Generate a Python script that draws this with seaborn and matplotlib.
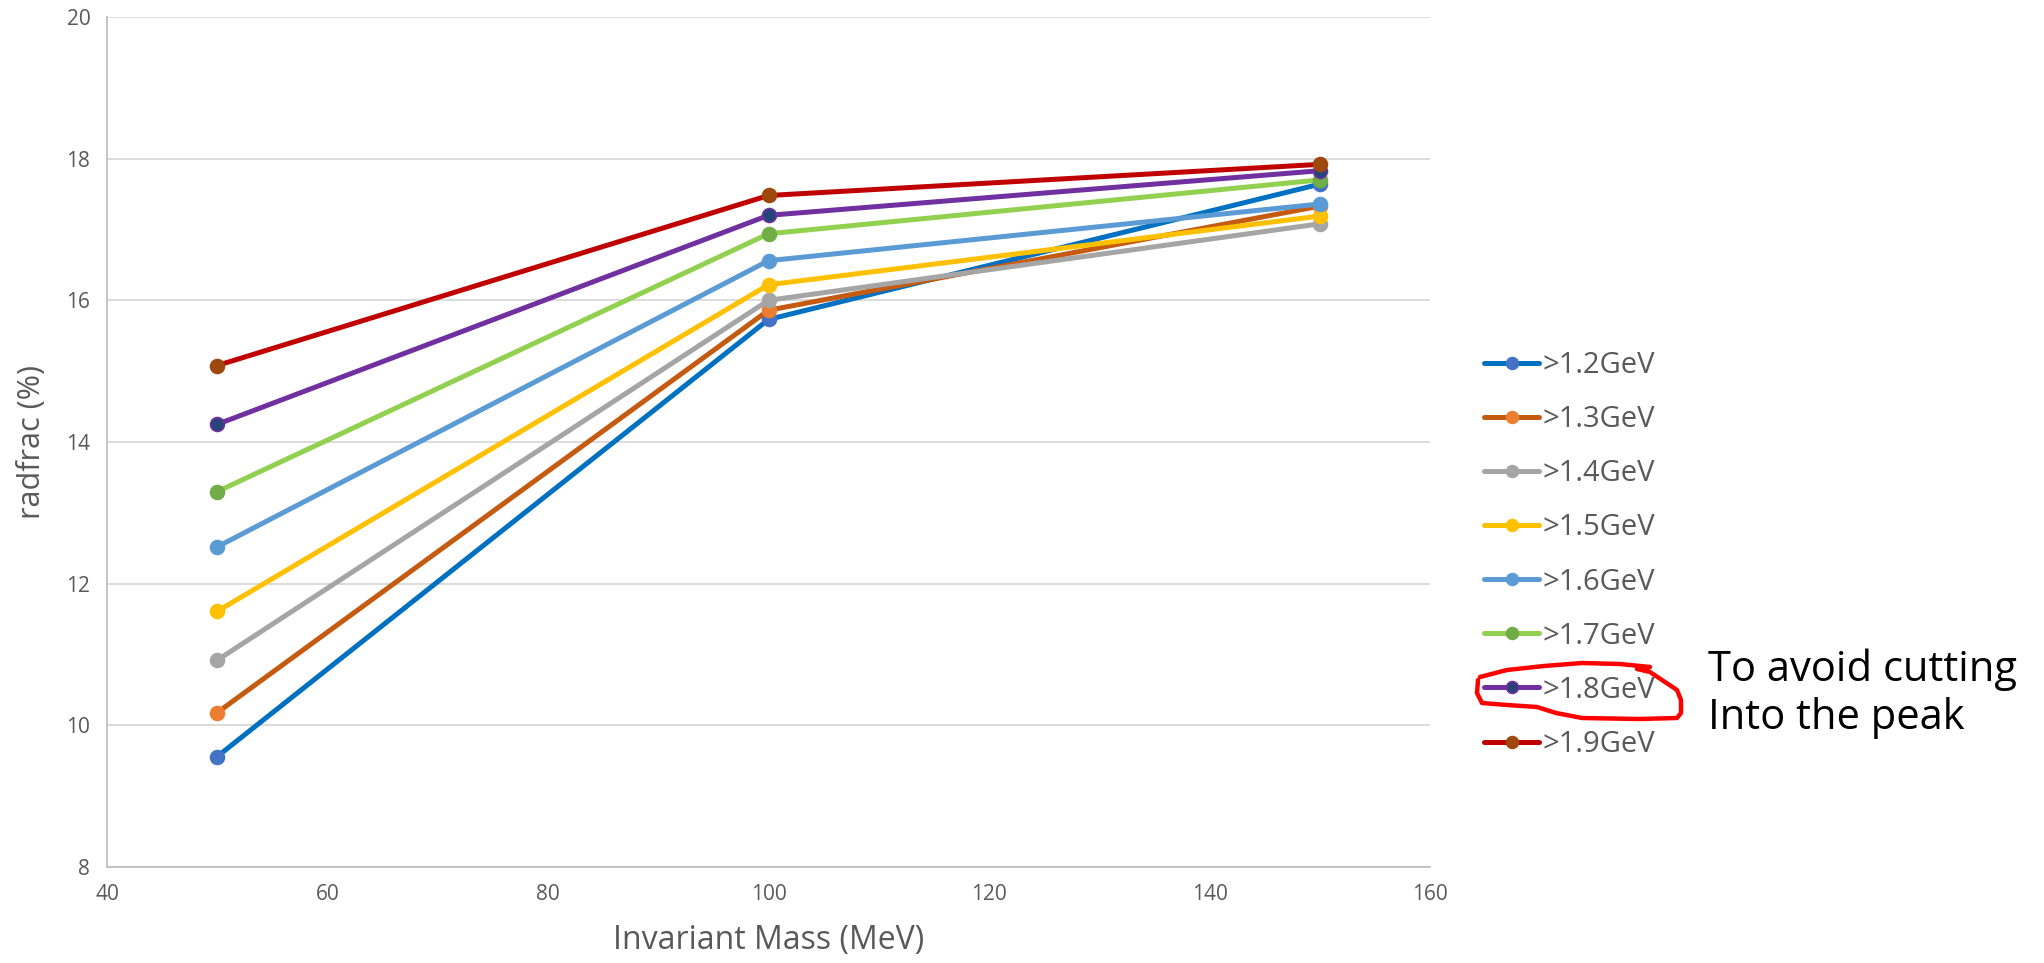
import matplotlib
matplotlib.use("Agg")
import matplotlib.pyplot as plt
import seaborn as sns
import pandas as pd
from matplotlib.lines import Line2D

mass = [50, 100, 150]
labels = [">1.2GeV", ">1.3GeV", ">1.4GeV", ">1.5GeV", ">1.6GeV", ">1.7GeV", ">1.8GeV", ">1.9GeV"]
v12 = [9.56, 15.73, 17.64]
v13 = [10.18, 15.86, 17.33]
v14 = [10.92, 16.00, 17.08]
v15 = [11.61, 16.22, 17.19]
v16 = [12.52, 16.56, 17.36]
v17 = [13.30, 16.94, 17.70]
v18 = [14.25, 17.20, 17.83]
v19 = [15.08, 17.48, 17.92]
series = [v12, v13, v14, v15, v16, v17, v18, v19]

line_colors = ["#0070C0", "#C55A11", "#A5A5A5", "#FFC000", "#5B9BD5", "#92D050", "#7030A0", "#C00000"]
marker_colors = ["#4472C4", "#ED7D31", "#A5A5A5", "#FFC000", "#5B9BD5", "#70AD47", "#264478", "#9E480E"]
edge_colors = ["#4472C4", "#ED7D31", "#A5A5A5", "#FFC000", "#5B9BD5", "#70AD47", "#7030A0", "#9E480E"]

sns.set_style("white")
plt.rcParams['font.family'] = ['Open Sans', 'DejaVu Sans']

fig = plt.figure(figsize=(20.44, 9.63), dpi=100)
ax = fig.add_axes([107/2044, 1-867/963, (1430-107)/2044, (867-17)/963])

for lab, vals, lc, mc, ec in zip(labels, series, line_colors, marker_colors, edge_colors):
    df = pd.DataFrame({"mass": mass, "val": vals})
    sns.lineplot(data=df, x="mass", y="val", ax=ax, color=lc, linewidth=3.6,
                 marker="o", markersize=10, markerfacecolor=mc, markeredgecolor=ec,
                 markeredgewidth=1.2, label=lab)

ax.set_xlim(40, 160)
ax.set_ylim(8, 20)
ax.set_xticks(range(40, 161, 20))
ax.set_yticks(range(8, 21, 2))
ax.yaxis.grid(True, color="#D9D9D9", linewidth=1.3)
ax.xaxis.grid(False)
ax.set_axisbelow(True)
for s in ["top", "right"]:
    ax.spines[s].set_visible(False)
for s in ["left", "bottom"]:
    ax.spines[s].set_color("#BFBFBF")
    ax.spines[s].set_linewidth(1.3)
ax.tick_params(axis="both", length=0, labelsize=15, labelcolor="#595959", pad=12)
ax.set_xlabel("Invariant Mass (MeV)", fontsize=23, color="#595959", labelpad=14)
ax.set_ylabel("radfrac (%)", fontsize=22, color="#595959", labelpad=14)

leg = ax.legend(loc="center left", bbox_to_anchor=(1484/2044, 1-555/963),
                bbox_transform=fig.transFigure, frameon=False, fontsize=21,
                handlelength=1.9, labelspacing=0.86, handletextpad=0.1, markerscale=0.85,
                borderaxespad=0, borderpad=0)
for t in leg.get_texts():
    t.set_color("#595959")

fig.text(1708/2044, 1-694/963, "To avoid cutting\nInto the peak", fontsize=30,
         color="black", va="center", ha="left", linespacing=1.2)

# hand-drawn red loop around the >1.8GeV legend entry (figure pixel coords)
px = [1480, 1507, 1544, 1582, 1620, 1650, 1637, 1650, 1662, 1677, 1681, 1681, 1677,
      1639, 1582, 1556, 1537, 1507, 1482, 1477, 1478]
py = [677, 670, 666, 663, 664, 667, 669, 672, 680, 690, 700, 713, 718,
      719, 718, 713, 707, 705, 703, 693, 680]
fig.add_artist(Line2D([x/2044 for x in px], [1-y/963 for y in py], transform=fig.transFigure,
                      color="#FF0000", linewidth=3.2, solid_capstyle="round",
                      solid_joinstyle="round"))

fig.savefig("out.png", dpi=100)
